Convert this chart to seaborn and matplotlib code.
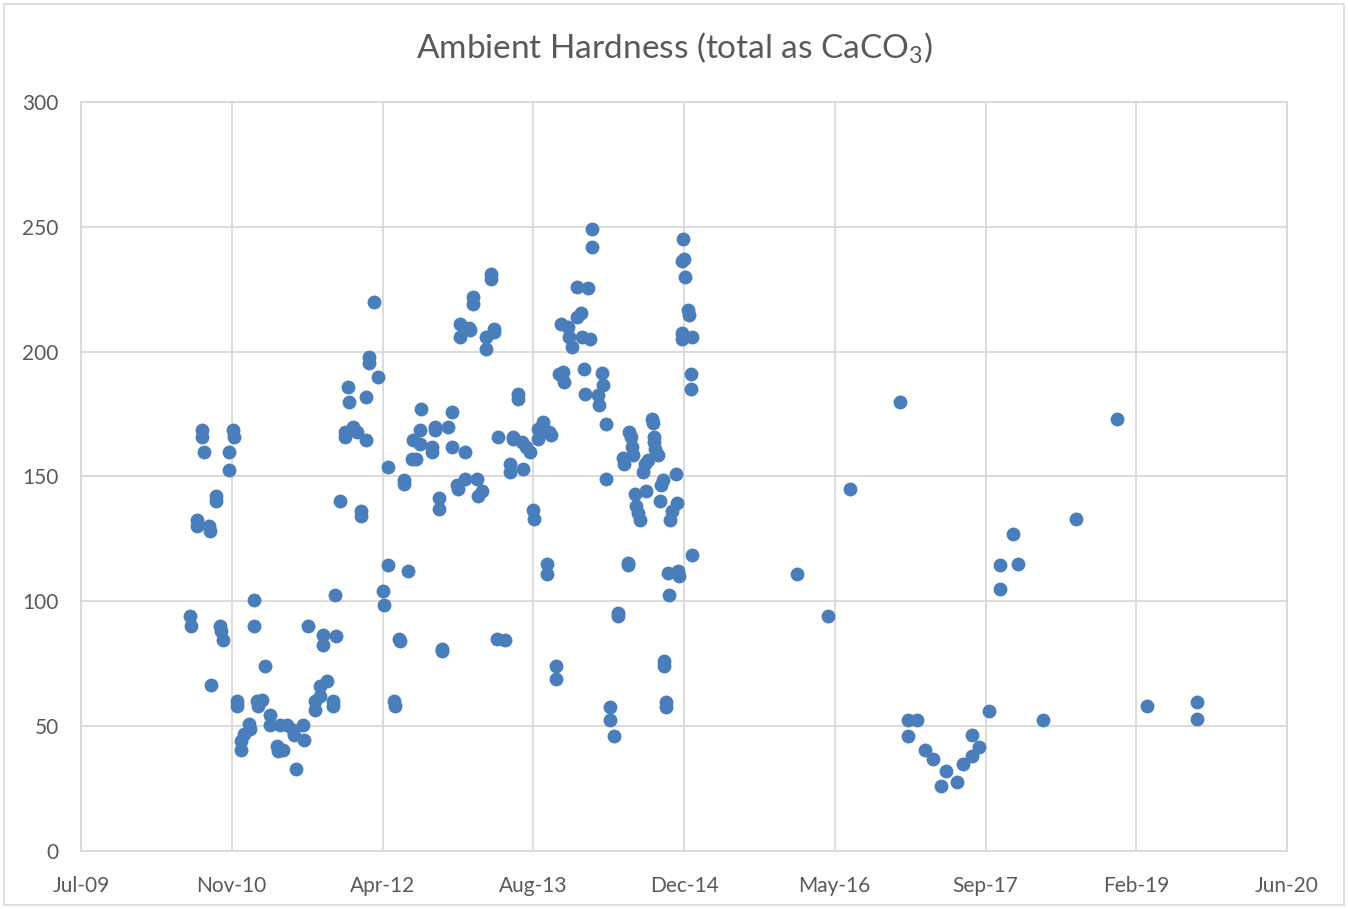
import matplotlib
matplotlib.use("Agg")
import matplotlib.pyplot as plt
import seaborn as sns
import pandas as pd
from matplotlib.patches import Rectangle

dates = [
    '2010-07-03', '2010-07-05', '2010-07-26', '2010-07-27', '2010-08-10', '2010-08-11', '2010-08-19',
    '2010-09-05', '2010-09-06', '2010-09-10', '2010-09-26', '2010-09-27', '2010-10-10', '2010-10-15',
    '2010-10-20', '2010-11-08', '2010-11-09', '2010-11-23', '2010-11-24', '2010-12-04', '2010-12-05',
    '2010-12-18', '2010-12-19', '2010-12-28', '2011-01-15', '2011-01-16', '2011-01-31', '2011-02-01',
    '2011-02-11', '2011-02-12', '2011-02-25', '2011-03-08', '2011-03-25', '2011-03-26', '2011-04-16',
    '2011-04-20', '2011-05-08', '2011-04-27', '2011-05-19', '2011-06-10', '2011-06-11', '2011-07-13',
    '2011-07-14', '2011-06-18', '2011-07-29', '2011-08-21', '2011-08-22', '2011-09-07', '2011-09-08',
    '2011-09-30', '2011-09-17', '2011-09-18', '2011-10-19', '2011-10-20', '2011-10-29', '2011-10-27',
    '2011-11-12', '2011-11-28', '2011-11-29', '2011-12-10', '2011-12-11', '2011-12-26', '2012-01-06',
    '2012-01-20', '2012-01-21', '2012-02-06', '2012-02-07', '2012-02-16', '2012-02-17', '2012-03-04',
    '2012-03-18', '2012-04-04', '2012-04-05', '2012-04-18', '2012-04-20', '2012-05-10', '2012-05-11',
    '2012-05-27', '2012-05-28', '2012-06-11', '2012-06-12', '2012-06-23', '2012-07-07', '2012-07-21',
    '2012-07-12', '2012-08-03', '2012-08-02', '2012-08-08', '2012-09-11', '2012-09-12', '2012-09-22',
    '2012-09-23', '2012-10-06', '2012-10-07', '2012-10-16', '2012-10-17', '2012-11-03', '2012-11-18',
    '2012-11-19', '2012-12-05', '2012-12-06', '2012-12-14', '2012-12-15', '2012-12-31', '2013-01-01',
    '2013-01-14', '2013-01-15', '2013-01-25', '2013-01-26', '2013-02-10', '2013-02-11', '2013-02-24',
    '2013-03-10', '2013-03-11', '2013-03-26', '2013-03-27', '2013-04-06', '2013-04-07', '2013-04-16',
    '2013-04-20', '2013-05-12', '2013-05-29', '2013-05-30', '2013-06-07', '2013-06-08', '2013-06-23',
    '2013-06-24', '2013-07-07', '2013-07-10', '2013-07-21', '2013-08-03', '2013-08-14', '2013-08-15',
    '2013-08-30', '2013-08-31', '2013-09-16', '2013-10-05', '2013-10-12', '2013-09-27', '2013-09-28',
    '2013-10-28', '2013-10-29', '2013-11-13', '2013-11-07', '2013-11-21', '2013-11-24', '2013-12-08',
    '2013-12-09', '2013-12-19', '2014-01-05', '2014-01-06', '2014-01-21', '2014-01-22', '2014-01-30',
    '2014-01-31', '2014-02-12', '2014-02-17', '2014-02-25', '2014-02-26', '2014-03-18', '2014-03-19',
    '2014-03-31', '2014-04-01', '2014-04-11', '2014-04-12', '2014-04-25', '2014-04-26', '2014-05-09',
    '2014-05-22', '2014-05-23', '2014-06-09', '2014-06-10', '2014-06-26', '2014-06-24', '2014-06-25',
    '2014-07-03', '2014-07-06', '2014-07-11', '2014-07-17', '2014-07-22', '2014-07-27', '2014-08-04',
    '2014-08-13', '2014-08-18', '2014-08-24', '2014-08-29', '2014-09-13', '2014-09-14', '2014-09-17',
    '2014-09-18', '2014-09-22', '2014-10-02', '2014-10-08', '2014-10-13', '2014-10-18', '2014-10-21',
    '2014-10-22', '2014-10-27', '2014-10-28', '2014-11-05', '2014-11-08', '2014-11-12', '2014-11-16',
    '2014-11-30', '2014-12-04', '2014-12-07', '2014-12-10', '2014-12-24', '2014-12-27', '2014-12-22',
    '2014-12-29', '2014-12-20', '2014-12-21', '2015-01-10', '2015-01-11', '2015-01-21', '2015-01-18',
    '2015-01-19', '2015-01-22',
    '2016-01-07', '2016-04-17', '2016-06-30', '2016-12-12', '2017-01-07', '2017-01-08', '2017-02-08',
    '2017-03-05', '2017-04-02', '2017-04-28', '2017-05-14', '2017-06-20', '2017-07-11', '2017-08-07',
    '2017-08-08', '2017-09-02', '2017-10-04', '2017-11-09', '2017-11-10', '2017-12-23', '2018-01-08',
    '2018-04-02', '2018-07-18', '2018-12-03', '2019-03-13', '2019-08-24', '2019-08-25',
]

hardness = [
    94, 90, 132.5, 130, 168.5, 166, 160,
    130, 128, 66.5, 142, 140, 90, 88,
    84.5, 160, 152.5, 168.5, 166, 60, 58,
    44, 40.5, 47, 51, 49, 100.5, 90,
    60, 58, 60.5, 74, 54.5, 50.5, 42,
    40, 40.5, 50.5, 50.5, 48.5, 46.5, 50.5,
    44.5, 33, 90, 60, 56.5, 66, 62,
    68, 86.5, 82.5, 60, 58, 86, 102.5,
    140, 168, 166, 186, 180, 170, 168,
    136, 134, 182, 164.5, 198, 195.5, 220,
    190, 104, 98.5, 154, 114.5, 60, 58,
    85, 84, 148.5, 147, 112, 157, 157,
    164.5, 163, 168.5, 177, 162, 160, 170,
    168.5, 141.5, 137, 81, 80, 170, 176,
    162, 146.5, 145, 211, 206, 160, 149,
    209.5, 208.5, 222, 219, 149, 142, 144,
    206, 201, 231, 229, 209, 208, 85,
    166, 84.5, 155, 152, 166, 165, 183,
    181, 164, 153, 162, 160, 136.5, 133,
    169, 165, 172, 168, 166.5, 115, 111,
    74, 69, 211, 191, 192, 188, 210,
    206, 202, 226, 214, 215.5, 206, 193,
    183, 225.5, 205, 249, 242, 182.5, 178.5,
    191.5, 186.5, 171, 149, 57.5, 52.5, 46,
    95.5, 94, 157.5, 155, 168, 115.5, 114.5,
    166, 162, 158.5, 143, 138, 135.5, 132.5,
    152, 155, 144, 156.5, 173, 171.5, 166,
    164, 161, 158.5, 140, 146.5, 148.5, 76,
    74, 59.5, 57.5, 111.5, 102.5, 132.5, 136,
    151, 139.5, 112, 110, 245, 237, 236.5,
    230, 207.5, 205, 216.5, 214.5, 206, 191,
    185, 118.5,
    111, 94, 145, 180, 52.5, 46, 52.5,
    40.5, 37, 26, 32, 27.5, 35, 38,
    46.5, 41.5, 56, 114.5, 105, 127, 115,
    52.5, 133, 173, 58, 59.5, 53,
]

tick_dates = ['2009-07-06', '2010-11-18', '2012-04-01', '2013-08-14', '2014-12-27',
              '2016-05-10', '2017-09-22', '2019-02-04', '2020-06-18']
tick_labels = ['Jul-09', 'Nov-10', 'Apr-12', 'Aug-13', 'Dec-14', 'May-16', 'Sep-17', 'Feb-19', 'Jun-20']
y_ticks = [0, 50, 100, 150, 200, 250, 300]

df = pd.DataFrame({'date': pd.to_datetime(dates), 'hardness': hardness})

sns.set_theme(style="white")
plt.rcParams['font.family'] = ['Lato', 'DejaVu Sans']
plt.rcParams['mathtext.fontset'] = 'custom'
plt.rcParams['mathtext.rm'] = 'Lato'
plt.rcParams['mathtext.default'] = 'regular'

text_col = '#595959'
grid_col = '#d9d9d9'

fig = plt.figure(figsize=(13.48, 9.09), dpi=100)
ax = fig.add_axes([81 / 1348, 1 - 851 / 909, (1287 - 81) / 1348, (851 - 102) / 909])

sns.scatterplot(data=df, x='date', y='hardness', ax=ax, color='#4a7ebb',
                s=100, linewidth=0, zorder=3, legend=False)

tdates = pd.to_datetime(tick_dates)
ax.set_xlim(tdates[0], tdates[-1])
ax.set_ylim(0, 300)
ax.set_xticks(tdates)
ax.set_xticklabels(tick_labels)
ax.set_yticks(y_ticks)
ax.set_yticklabels([str(v) for v in y_ticks])
ax.grid(True, color=grid_col, linewidth=1.3, zorder=0)
ax.set_axisbelow(True)
for sp in ax.spines.values():
    sp.set_color(grid_col)
    sp.set_linewidth(1.3)
ax.tick_params(axis='both', length=0, labelsize=15, colors=text_col)
ax.tick_params(axis='x', pad=18)
ax.tick_params(axis='y', pad=16)
ax.set_xlabel('')
ax.set_ylabel('')

fig.text(0.5, 1 - 48 / 909, 'Ambient Hardness (total as CaCO$_3$)', ha='center', va='center',
         fontsize=24, color=text_col)

fig.patches.append(Rectangle((4 / 1348, 4 / 909), 1 - 8 / 1348, 1 - 8 / 909, transform=fig.transFigure,
                             fill=False, edgecolor=grid_col, linewidth=1.2))

fig.savefig('out.png', dpi=100)
